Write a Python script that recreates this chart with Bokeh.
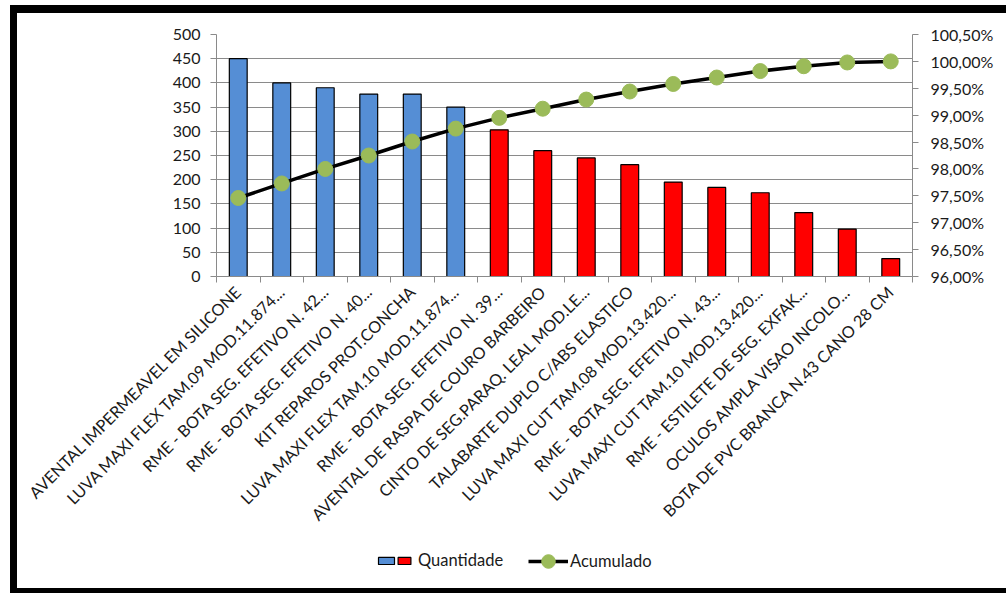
import math
from bokeh.plotting import figure
from bokeh.models import (ColumnDataSource, Range1d, LinearAxis, FixedTicker,
                          Legend, LegendItem, CDSView, IndexFilter)
from bokeh.core.properties import value
from bokeh.layouts import column
from bokeh.embed import file_html
from bokeh.resources import INLINE

# ---------------- data ----------------
categories = [
    "AVENTAL IMPERMEAVEL EM SILICONE",
    "LUVA MAXI FLEX TAM.09 MOD.11.874...",
    "RME - BOTA SEG. EFETIVO N. 42...",
    "RME - BOTA SEG. EFETIVO N. 40...",
    "KIT REPAROS PROT.CONCHA",
    "LUVA MAXI FLEX TAM.10 MOD.11.874...",
    "RME - BOTA SEG. EFETIVO N. 39...",
    "AVENTAL DE RASPA DE COURO BARBEIRO",
    "CINTO DE SEG.PARAQ. LEAL MOD.LE...",
    "TALABARTE DUPLO C/ABS ELASTICO",
    "LUVA MAXI CUT TAM.08 MOD.13.420...",
    "RME - BOTA SEG. EFETIVO N. 43...",
    "LUVA MAXI CUT TAM.10 MOD.13.420...",
    "RME - ESTILETE DE SEG. EXFAK...",
    "OCULOS AMPLA VISAO INCOLO...",
    "BOTA DE PVC BRANCA N.43 CANO 28 CM",
]
quantidade = [450, 400, 390, 377, 377, 350, 303, 260, 245, 231, 195, 184, 173, 132, 98, 37]
acumulado = [97.46, 97.73, 98.00, 98.25, 98.51, 98.75, 98.95, 99.12, 99.29, 99.44,
             99.58, 99.70, 99.82, 99.91, 99.98, 100.00]
left_ticks = [0, 50, 100, 150, 200, 250, 300, 350, 400, 450, 500]
right_ticks = [96.0, 96.5, 97.0, 97.5, 98.0, 98.5, 99.0, 99.5, 100.0, 100.5]
right_tick_labels = ["96,00%", "96,50%", "97,00%", "97,50%", "98,00%", "98,50%",
                     "99,00%", "99,50%", "100,00%", "100,50%"]
n_blue = 6  # first bars drawn in blue

# ---------------- styles ----------------
FONT = "Lato"
TEXT = "#1a1a1a"
GRID = "#8a8a8a"
BLUE = "#558ED5"
RED = "#FF0000"
GREEN = "#9BBB59"

n = len(categories)
xpos = [i + 0.5 for i in range(n)]
source = ColumnDataSource(dict(x=xpos, qty=quantidade, cum=acumulado, cat=categories))
blue_view = CDSView(filter=IndexFilter(list(range(n_blue))))
red_view = CDSView(filter=IndexFilter(list(range(n_blue, n))))

p = figure(width=989, height=530, output_backend="svg", toolbar_location=None,
           x_range=Range1d(0, n), y_range=Range1d(0, 500),
           min_border_left=199, min_border_right=94, min_border_top=21,
           min_border_bottom=267)
p.extra_y_ranges = {"pct": Range1d(96, 100.5)}
p.outline_line_color = None
p.background_fill_color = "white"
p.border_fill_color = "white"

# bars
blue_r = p.vbar(x="x", top="qty", width=0.41, source=source, view=blue_view,
                fill_color=BLUE, line_color="black", line_width=1.2)
red_r = p.vbar(x="x", top="qty", width=0.41, source=source, view=red_view,
               fill_color=RED, line_color="black", line_width=1.2)

# cumulative line
line_r = p.line(x="x", y="cum", source=source, y_range_name="pct",
                line_color="black", line_width=3.5)
dot_r = p.scatter(x="x", y="cum", source=source, y_range_name="pct", size=15,
                  fill_color=GREEN, line_color=GREEN)

# x axis
xa = p.xaxis[0]
xa.ticker = FixedTicker(ticks=xpos, minor_ticks=list(range(n + 1)))
xa.major_label_overrides = {xv: c for xv, c in zip(xpos, categories)}
xa.major_label_orientation = math.pi / 4
xa.major_tick_line_color = None
xa.minor_tick_in = 0
xa.minor_tick_out = 6
xa.minor_tick_line_color = GRID
xa.axis_line_color = GRID
xa.major_label_text_font = FONT
xa.major_label_text_font_size = "16.3px"
xa.major_label_text_color = TEXT
xa.major_label_standoff = 6

# left axis
ya = p.yaxis[0]
ya.ticker = FixedTicker(ticks=left_ticks)
ya.minor_tick_line_color = None
ya.major_tick_in = 0
ya.major_tick_out = 6
ya.major_tick_line_color = GRID
ya.axis_line_color = GRID
ya.major_label_text_font = FONT
ya.major_label_text_font_size = "16px"
ya.major_label_text_color = TEXT
ya.major_label_standoff = 10

# right axis
ra = LinearAxis(y_range_name="pct", ticker=FixedTicker(ticks=right_ticks))
ra.major_label_overrides = {t: l for t, l in zip(right_ticks, right_tick_labels)}
ra.minor_tick_line_color = None
ra.major_tick_in = 0
ra.major_tick_out = 6
ra.major_tick_line_color = GRID
ra.axis_line_color = GRID
ra.major_label_text_font = FONT
ra.major_label_text_font_size = "16px"
ra.major_label_text_color = TEXT
ra.major_label_standoff = 12
p.add_layout(ra, "right")

# grid
p.xgrid.grid_line_color = None
p.ygrid.ticker = FixedTicker(ticks=left_ticks)
p.ygrid.grid_line_color = GRID
p.ygrid.grid_line_width = 1

# ---------------- legend strip (separate figure; its frame is aligned with the main frame) ----------------
lg = figure(width=989, height=45, output_backend="svg", toolbar_location=None,
            x_axis_type=None, y_axis_type=None,
            x_range=Range1d(1000, 1001), y_range=Range1d(1000, 1001),
            min_border_left=0, min_border_right=0, min_border_top=0, min_border_bottom=0)
lg.grid.visible = False
lg.outline_line_color = None
lg.border_fill_color = "white"
lg.background_fill_color = "white"

# legend proxies use the same data, but lie outside this strip's ranges (not visible)
lb = lg.vbar(x="x", top="qty", width=0.41, source=source, view=blue_view,
             fill_color=BLUE, line_color="black", line_width=1.2)
lr = lg.vbar(x="x", top="qty", width=0.41, source=source, view=red_view,
             fill_color=RED, line_color="black", line_width=1.2)
ll = lg.line(x="x", y="cum", source=source, line_color="black", line_width=3.5)
ld = lg.scatter(x="x", y="cum", source=source, size=14, fill_color=GREEN, line_color=GREEN)

common = dict(orientation="horizontal", padding=0, margin=0, border_line_color=None,
              background_fill_alpha=0, label_text_font=FONT,
              label_text_font_size="16.5px", label_text_color=TEXT, label_width=0,
              spacing=0)
leg_blue = Legend(items=[LegendItem(label=value(""), renderers=[lb])],
                  location=(160, 23), glyph_width=20, glyph_height=9,
                  label_standoff=0, **common)
leg_red = Legend(items=[LegendItem(label=value("Quantidade"), renderers=[lr])],
                 location=(180, 18), glyph_width=16, glyph_height=9,
                 label_standoff=6, **common)
leg_cum = Legend(items=[LegendItem(label=value("Acumulado"), renderers=[ll, ld])],
                 location=(312, 10), glyph_width=40, glyph_height=34,
                 label_standoff=2, **common)
lg.add_layout(leg_blue, "center")
lg.add_layout(leg_red, "center")
lg.add_layout(leg_cum, "center")

layout = column(p, lg, spacing=0,
                styles={"margin-left": "10px", "margin-top": "5px",
                        "border-left": "7px solid black",
                        "border-top": "8px solid black",
                        "border-bottom": "6px solid black"})

open("out.html", "w").write(file_html(layout, INLINE))
